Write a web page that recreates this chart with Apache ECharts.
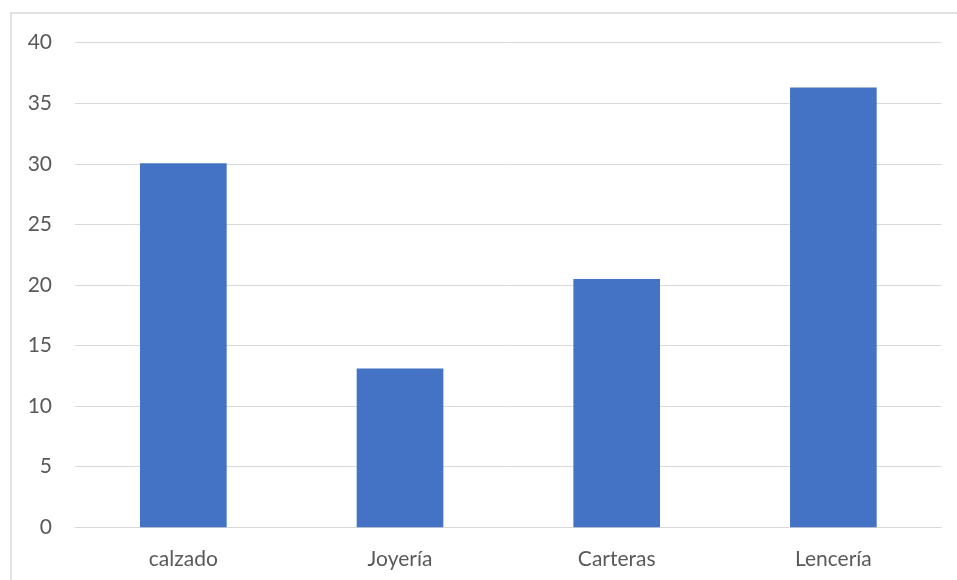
<!DOCTYPE html>
<html>
<head>
<meta charset="utf-8">
<script src="https://cdn.jsdelivr.net/npm/echarts@6/dist/echarts.min.js"></script>
<style>
  html, body { margin: 0; padding: 0; background: #fff; }
  #chart { width: 957px; height: 580px; }
</style>
</head>
<body>
<div id="chart"></div>
<script>
// Sales by product category
const categories = ['calzado', 'Joyería', 'Carteras', 'Lencería'];
const values = [30.05, 13.1, 20.5, 36.3];
const yTicks = { min: 0, max: 40, interval: 5 };

const chart = echarts.init(document.getElementById('chart'), null, { renderer: 'canvas' });

const labelFont = { fontFamily: 'Lato, "Open Sans", sans-serif', fontSize: 21, color: '#595959' };

chart.setOption({
  animation: false,
  backgroundColor: '#ffffff',
  graphic: [{
    type: 'rect',
    shape: { x: 11, y: 13, width: 1000, height: 700 },
    style: { fill: 'none', stroke: '#d9d9d9', lineWidth: 1.5 },
    silent: true
  }],
  grid: { left: 75, right: 15.3, top: 42.7, bottom: 52.7, containLabel: false },
  xAxis: {
    type: 'category',
    data: categories,
    axisLine: { show: true, lineStyle: { color: '#d9d9d9', width: 1 } },
    axisTick: { show: false },
    axisLabel: Object.assign({ margin: 21 }, labelFont),
    splitLine: { show: false }
  },
  yAxis: {
    type: 'value',
    min: yTicks.min,
    max: yTicks.max,
    interval: yTicks.interval,
    axisLine: { show: false },
    axisTick: { show: false },
    axisLabel: Object.assign({ margin: 23 }, labelFont),
    splitLine: { lineStyle: { color: '#d9d9d9', width: 1 } }
  },
  series: [{
    type: 'bar',
    data: values,
    barWidth: '40%',
    itemStyle: { color: '#4472C4' }
  }]
});
</script>
</body>
</html>
